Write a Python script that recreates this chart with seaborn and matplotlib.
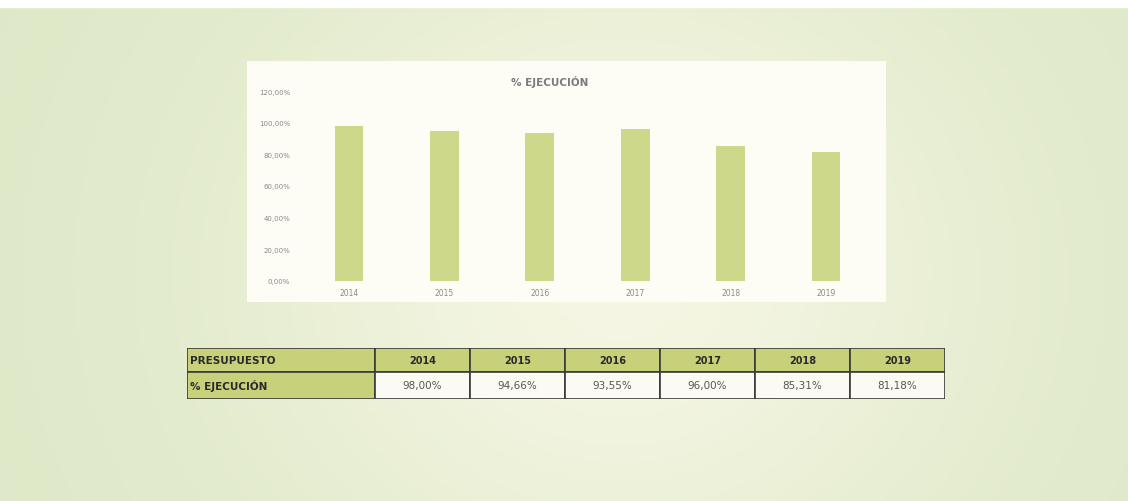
import numpy as np
import pandas as pd
import matplotlib
matplotlib.use("Agg")
import matplotlib.pyplot as plt
from matplotlib.patches import Rectangle
import seaborn as sns

years = ["2014", "2015", "2016", "2017", "2018", "2019"]
ejecucion = [98.00, 94.66, 93.55, 96.00, 85.31, 81.18]
table_labels = ["98,00%", "94,66%", "93,55%", "96,00%", "85,31%", "81,18%"]
ytick_vals = [0, 20, 40, 60, 80, 100, 120]
title = "% EJECUCIÓN"
row_header = "PRESUPUESTO"
row_label = "% EJECUCIÓN"

sns.set_theme(style="white")
plt.rcParams['font.family'] = ['DejaVu Sans']

W, H = 1128, 502
fig = plt.figure(figsize=(W / 100, H / 100), dpi=100)

# background gradient
bg = fig.add_axes([0, 0, 1, 1])
xx = np.linspace(0, 1, 300)
yy = np.linspace(0, 1, 150)
X, Y = np.meshgrid(xx, yy)
c_edge = np.array([0.87, 0.91, 0.78])
c_mid = np.array([0.96, 0.965, 0.89])
t = np.exp(-((X - 0.55) ** 2) / 0.12 - ((Y - 0.45) ** 2) / 0.5)
img = c_edge[None, None, :] * (1 - t[..., None]) + c_mid[None, None, :] * t[..., None]
bg.imshow(img, extent=[0, 1, 0, 1], aspect="auto", origin="lower")
bg.add_patch(Rectangle((0, 1 - 8 / H), 1, 8 / H, color="white", zorder=3))
bg.set_xlim(0, 1); bg.set_ylim(0, 1)
bg.axis("off")

def fx(px): return px / W
def fy(py): return 1 - py / H

# chart panel
fig.patches.append(Rectangle((fx(247), fy(303)), fx(886) - fx(247), fy(62) - fy(303),
                             transform=fig.transFigure, facecolor="#fdfdf6",
                             edgecolor="none", zorder=1))

ax = fig.add_axes([fx(301.3), fy(282), fx(873.7) - fx(301.3), fy(92) - fy(282)])
ax.set_zorder(2)
df = pd.DataFrame({"year": years, "val": ejecucion})
sns.barplot(data=df, x="year", y="val", color="#cdd88a", width=0.3, ax=ax,
            saturation=1, edgecolor="none")
ax.set_xlim(-0.5, 5.5)
ax.set_ylim(0, 120)
ax.patch.set_alpha(0)
for s in ax.spines.values():
    s.set_visible(False)
ax.set_yticks(ytick_vals)
ax.set_yticklabels([f"{v},00%" for v in ytick_vals], fontsize=5, color="#8a8a8a")
ax.tick_params(axis="both", length=0, pad=8)
ax.tick_params(axis="x", labelsize=5.5, labelcolor="#8a8a8a", pad=5)
ax.set_xlabel(""); ax.set_ylabel("")
ax.grid(False)
fig.text(fx(550), fy(82), title, ha="center", va="center", fontsize=7.5,
         color="#7a7a7a", fontweight="bold")

# table
tax = fig.add_axes([fx(187), fy(400), fx(945) - fx(187), fy(349) - fy(400)])
tax.set_xlim(187, 945); tax.set_ylim(400, 349)
tax.axis("off")
bounds = [187, 375, 470, 565, 660, 755, 850, 945]
green = "#c8d07a"
r1, r2, r3 = 349, 373, 400
for i in range(7):
    x0, x1 = bounds[i], bounds[i + 1]
    tax.add_patch(Rectangle((x0, r1), x1 - x0, r2 - r1, facecolor=green,
                            edgecolor="#3a3a3a", lw=1.2))
    tax.add_patch(Rectangle((x0, r2), x1 - x0, r3 - r2,
                            facecolor=green if i == 0 else "#fbfbf3",
                            edgecolor="#3a3a3a", lw=1.2))
tax.text(190, (r1 + r2) / 2, row_header, ha="left", va="center", fontsize=7.5,
         fontweight="bold", color="#2a2a2a")
tax.text(190, (r2 + r3) / 2, row_label, ha="left", va="center", fontsize=7.5,
         fontweight="bold", color="#2a2a2a")
for i, (y, lab) in enumerate(zip(years, table_labels)):
    cx = (bounds[i + 1] + bounds[i + 2]) / 2
    tax.text(cx, (r1 + r2) / 2, y, ha="center", va="center", fontsize=7,
             fontweight="bold", color="#2a2a2a")
    tax.text(cx, (r2 + r3) / 2, lab, ha="center", va="center", fontsize=7.5,
             color="#555555")

fig.savefig("out.png", dpi=100)
